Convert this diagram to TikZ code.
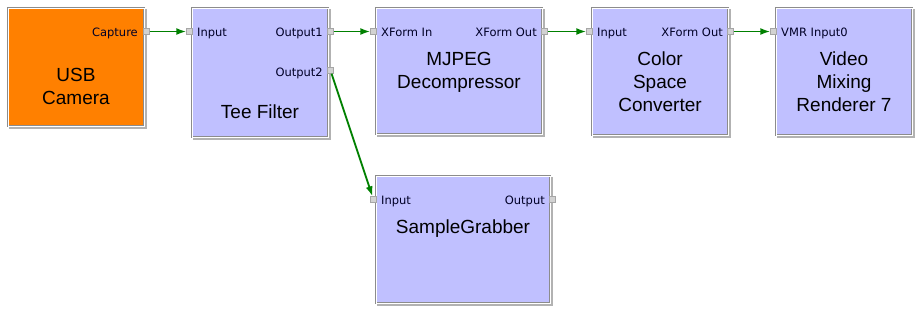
\documentclass[tikz,border=0pt]{standalone}
\usepackage{fontspec}
\setmainfont{Liberation Sans}
\newfontfamily\pinfont{DejaVu Sans}
\usetikzlibrary{arrows.meta}

\definecolor{filterblue}{RGB}{192,192,255}
\definecolor{sourceorange}{RGB}{255,128,0}
\definecolor{linkgreen}{RGB}{0,128,0}

\tikzset{
  filter/.style={draw=gray!90, double=white, double distance=0.9pt, line width=0.6pt,
    fill=filterblue, inner sep=0, anchor=north west},
  source/.style={filter, fill=sourceorange},
  title/.style={font=\fontsize{19}{23}\selectfont, align=center, anchor=base, inner sep=0},
  pinlabel/.style={font=\pinfont\fontsize{11.5}{13}\selectfont, inner sep=0, text=black!85!blue},
  pinbox/.style={draw=gray!70, fill=gray!35, minimum size=6pt, inner sep=0},
  flow/.style={draw=linkgreen, line width=1.8pt, -{Latex[length=10pt,width=7pt]}},
  shadowline/.style={draw=gray!60, line width=1.2pt}
}

\begin{document}
\begin{tikzpicture}[x=1pt, y=-1pt]
  \useasboundingbox (0,0) rectangle (920,309);

  %%%%% FILTERS %%%%%
  \node[source, minimum width=136pt, minimum height=118pt] (camera) at (8,8) {};
  \node[filter, minimum width=136pt, minimum height=129pt] (tee) at (192,8) {};
  \node[filter, minimum width=166pt, minimum height=126pt] (mjpeg) at (376,8) {};
  \node[filter, minimum width=136pt, minimum height=127pt] (csc) at (592,8) {};
  \node[filter, minimum width=136pt, minimum height=127pt] (vmr) at (776,8) {};
  \node[filter, minimum width=174pt, minimum height=127pt] (grabber) at (376,176) {};

  % shadow on the lower right of every box
  \foreach \b in {camera,tee,mjpeg,csc,vmr,grabber}
    \draw[shadowline] ([xshift=1.4pt,yshift=-1pt]\b.north east)
      -- ([xshift=1.4pt,yshift=-1.4pt]\b.south east)
      -- ([xshift=1pt,yshift=-1.4pt]\b.south west);

  %%%%% TITLES (placed at the last baseline) %%%%%
  \node[title] (cameratitle) at (76,104) {USB\\Camera};
  \node[title] (teetitle) at (260,118) {Tee Filter};
  \node[title] (mjpegtitle) at (459,88) {MJPEG\\Decompressor};
  \node[title] (csctitle) at (660,111) {Color\\Space\\Converter};
  \node[title] (vmrtitle) at (844,111) {Video\\Mixing\\Renderer 7};
  \node[title] (grabbertitle) at (463,233) {SampleGrabber};

  %%%%% PINS %%%%%
  \node[pinbox] (camcap) at (146.5,31.5) {};
  \node[pinbox] (teein) at (189.5,31.5) {};
  \node[pinbox] (teeout1) at (330.5,31.5) {};
  \node[pinbox] (teeout2) at (330.5,70.5) {};
  \node[pinbox] (mjpegin) at (373.5,31.5) {};
  \node[pinbox] (mjpegout) at (544.5,31.5) {};
  \node[pinbox] (cscin) at (589.5,31.5) {};
  \node[pinbox] (cscout) at (730.5,31.5) {};
  \node[pinbox] (vmrin) at (773.5,31.5) {};
  \node[pinbox] (grabberin) at (373.5,199.5) {};
  \node[pinbox] (grabberout) at (552.5,199.5) {};

  \node[pinlabel, anchor=base east] (camcaptext) at (138,36) {Capture};
  \node[pinlabel, anchor=base west] (teeintext) at (197,36) {Input};
  \node[pinlabel, anchor=base east] (teeout1text) at (323,36) {Output1};
  \node[pinlabel, anchor=base east] (teeout2text) at (323,76) {Output2};
  \node[pinlabel, anchor=base west] (mjpegintext) at (381,36) {XForm In};
  \node[pinlabel, anchor=base east] (mjpegouttext) at (537,36) {XForm Out};
  \node[pinlabel, anchor=base west] (cscintext) at (597,36) {Input};
  \node[pinlabel, anchor=base east] (cscouttext) at (723,36) {XForm Out};
  \node[pinlabel, anchor=base west] (vmrintext) at (781,36) {VMR Input0};
  \node[pinlabel, anchor=base west] (grabberintext) at (381,204) {Input};
  \node[pinlabel, anchor=base east] (grabberouttext) at (545,204) {Output};

  %%%%% CONNECTIONS %%%%%
  \draw[flow] (camcap) -- (teein);
  \draw[flow] (teeout1) -- (mjpegin);
  \draw[flow] (mjpegout) -- (cscin);
  \draw[flow] (cscout) -- (vmrin);
  \draw[flow] (teeout2) -- (grabberin);
\end{tikzpicture}
\end{document}
